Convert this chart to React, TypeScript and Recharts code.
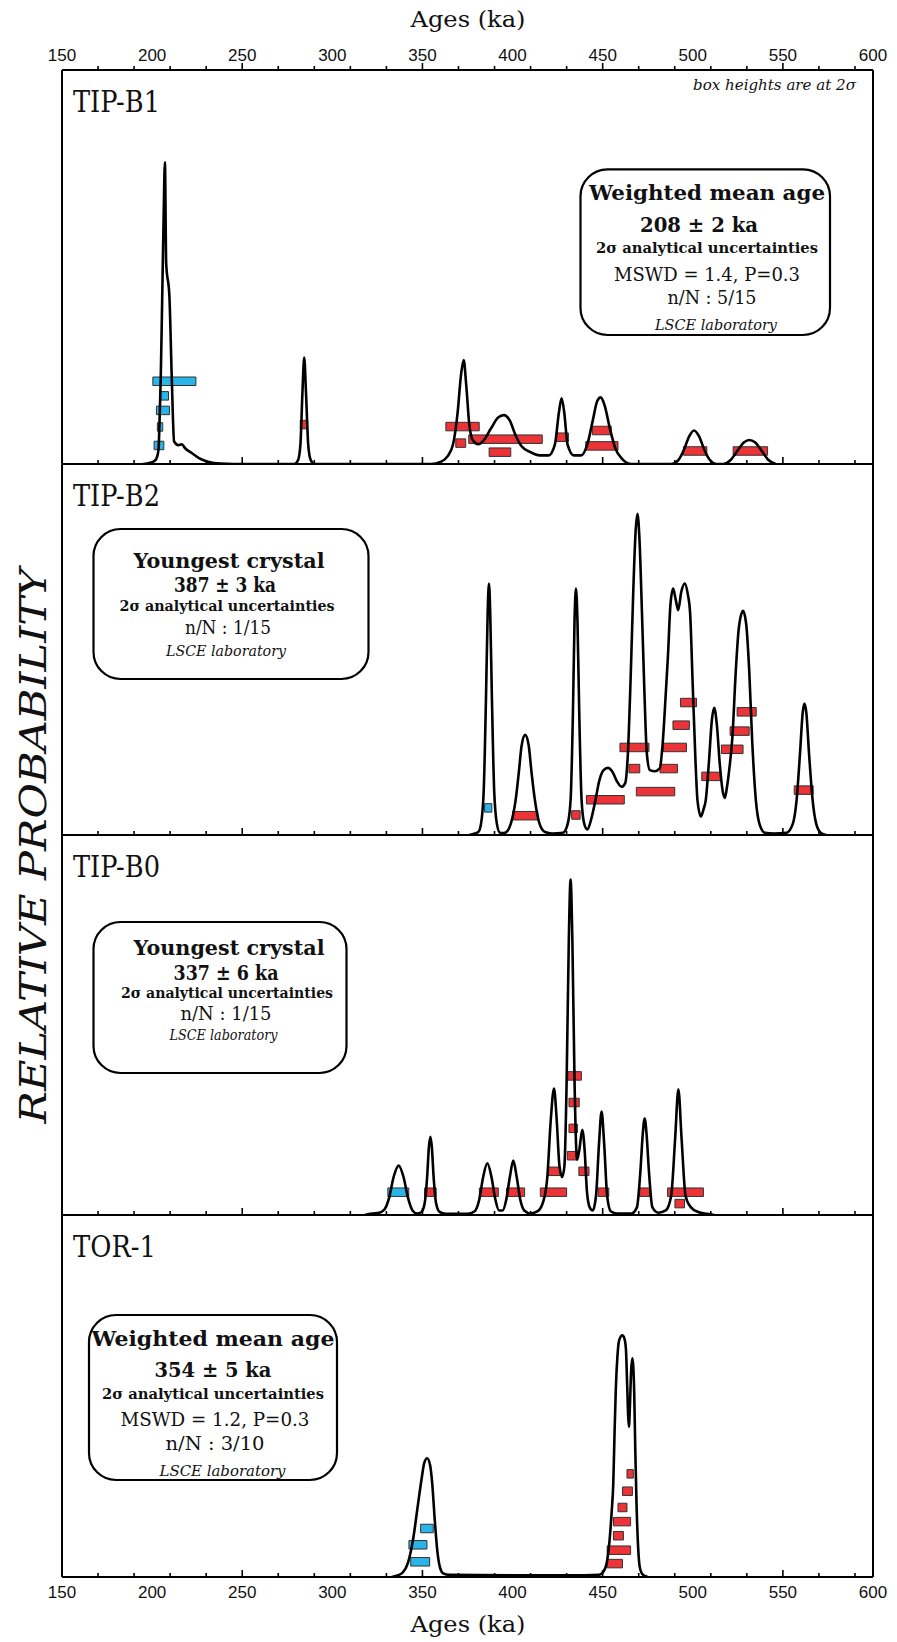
import React from "react";
import {
  ComposedChart,
  Line,
  XAxis,
  YAxis,
  ReferenceArea,
  ReferenceLine,
} from "recharts";

// axis (ka)
const AGE_LABELS = [150, 200, 250, 300, 350, 400, 450, 500, 550, 600];
const TICK_MARKS = [
  170, 190, 210, 230, 250, 270, 290, 310, 330, 350, 370, 390, 410, 430, 450,
  470, 490, 510, 530, 550, 570, 590,
];
const LONG_TICKS = [250, 350, 450, 550];
const ALL_TICKS = Array.from(new Set([...AGE_LABELS, ...TICK_MARKS])).sort(
  (a, b) => a - b
);

// probability density curves: [age ka, relative probability]
const B1_CURVE = [
  [195, 0], [199, 0.003], [201.5, 0.008], [203, 0.022], [203.6, 0.04], [204.2, 0.12],
  [204.8, 0.22], [205.6, 0.42], [206.4, 0.63], [207.1, 0.766], [207.8, 0.51],
  [209.6, 0.425], [210.9, 0.22], [212.2, 0.057], [214.6, 0.048], [216.5, 0.05],
  [218.3, 0.04], [222, 0.028], [226, 0.015], [231, 0.006], [238, 0.001], [245, 0],
  [279, 0], [281, 0.01], [282.3, 0.05], [283.4, 0.18], [284.4, 0.27], [285.4, 0.18],
  [286.6, 0.05], [288, 0.01], [290, 0],
  [355, 0], [360, 0.005], [364, 0.02], [367, 0.05], [369.5, 0.13], [371.5, 0.23],
  [372.9, 0.264], [374.3, 0.2], [376, 0.1], [378, 0.06], [381, 0.05], [384, 0.06],
  [388, 0.09], [392, 0.118], [395.2, 0.124], [398.5, 0.11], [401.5, 0.075],
  [405, 0.045], [410, 0.03], [415, 0.022], [420, 0.022], [423.5, 0.05],
  [425.7, 0.13], [427.2, 0.167], [428.7, 0.13], [430.5, 0.05], [434, 0.022],
  [438, 0.022], [441.5, 0.05], [444.5, 0.11], [447, 0.16], [448.9, 0.169],
  [451, 0.15], [454, 0.09], [457, 0.04], [461, 0.012], [466, 0],
  [488, 0], [492, 0.01], [495, 0.035], [498, 0.07], [500.7, 0.085], [503.5, 0.07],
  [506.5, 0.035], [509.5, 0.01], [513, 0],
  [517, 0], [521, 0.01], [525, 0.035], [528.5, 0.055], [531.3, 0.061],
  [534.5, 0.055], [538, 0.035], [542, 0.01], [546, 0],
];

const B2_CURVE = [
  [376, 0], [379, 0.004], [381, 0.008], [382.5, 0.03], [384, 0.12], [385.3, 0.38],
  [386.2, 0.6], [386.9, 0.678], [387.6, 0.6], [388.5, 0.38], [389.8, 0.12],
  [391.3, 0.03], [393, 0.006], [395, 0.005], [397, 0.01], [399, 0.03],
  [401.7, 0.094], [403.5, 0.17], [405, 0.24], [407, 0.27], [409, 0.24],
  [410.5, 0.17], [412.4, 0.094], [415, 0.03], [418, 0.008], [422, 0.004],
  [428, 0.006], [430.6, 0.03], [432.2, 0.094], [433.5, 0.33], [434.4, 0.58],
  [435.2, 0.664], [436, 0.58], [437, 0.33], [438.3, 0.094], [439.8, 0.03],
  [441.5, 0.015], [443.5, 0.04], [446, 0.094], [448, 0.144], [450.5, 0.175],
  [452.9, 0.181], [455.5, 0.17], [458, 0.144], [460.5, 0.13], [462.5, 0.14],
  [464, 0.22], [465.5, 0.42], [467, 0.66], [468.3, 0.82], [469.3, 0.866],
  [470.4, 0.8], [471.8, 0.6], [473.2, 0.38], [474.5, 0.22], [476.2, 0.175],
  [479, 0.172], [481.7, 0.18], [483.5, 0.26], [485, 0.38], [486.2, 0.48],
  [487.6, 0.62], [489.1, 0.664], [490.5, 0.635], [491.9, 0.606], [493.6, 0.655],
  [495.6, 0.678], [497.2, 0.65], [498.5, 0.6], [500, 0.4], [501.5, 0.2],
  [502.6, 0.094], [504.5, 0.05], [506, 0.07], [507.2, 0.094], [509, 0.2],
  [510.6, 0.31], [511.9, 0.343], [513.3, 0.3], [515, 0.19], [516.5, 0.121],
  [517.8, 0.1], [519, 0.13], [520.2, 0.175], [522, 0.265], [523.9, 0.445],
  [525.6, 0.56], [527.9, 0.604], [529.6, 0.57], [531.3, 0.445], [533, 0.25],
  [535, 0.094], [537, 0.03], [540, 0.006], [545, 0.004], [552, 0.006],
  [555.5, 0.03], [557.6, 0.094], [559.5, 0.22], [561, 0.33], [561.9, 0.354],
  [563, 0.33], [564.5, 0.22], [566.5, 0.094], [568.5, 0.03], [571, 0.006], [574, 0],
];

const B0_CURVE = [
  [318, 0], [322, 0.004], [326, 0.006], [329, 0.015], [331.5, 0.045], [334, 0.1],
  [336.8, 0.13], [339.5, 0.1], [342, 0.045], [344.5, 0.012], [347, 0.004],
  [349.5, 0.008], [351.2, 0.03], [352.6, 0.1], [353.6, 0.18], [354.4, 0.206],
  [355.2, 0.18], [356.2, 0.1], [357.6, 0.03], [359.5, 0.008], [363, 0.003],
  [375, 0.003], [379, 0.01], [381.5, 0.04], [383.7, 0.1], [386, 0.136],
  [388.3, 0.1], [390.5, 0.04], [392.5, 0.012], [394.5, 0.012], [396.5, 0.04],
  [398.5, 0.1], [400.4, 0.143], [402.3, 0.1], [404.3, 0.04], [406.5, 0.012],
  [410, 0.004], [414, 0.01], [417, 0.035], [419.3, 0.1], [421.2, 0.25],
  [423, 0.333], [424.5, 0.25], [426, 0.13], [427.5, 0.1], [428.8, 0.13],
  [430, 0.35], [431.2, 0.72], [432.2, 0.883], [433.2, 0.72], [434.4, 0.35],
  [435.8, 0.145], [437, 0.17], [438.7, 0.224], [440, 0.17], [441.3, 0.06],
  [442.8, 0.02], [444.5, 0.012], [446.3, 0.05], [448, 0.19], [449.4, 0.272],
  [450.8, 0.19], [452.5, 0.05], [454.5, 0.01], [458, 0.004], [466, 0.004],
  [469, 0.02], [471, 0.12], [472.2, 0.21], [473.3, 0.254], [474.4, 0.21],
  [475.6, 0.12], [477.6, 0.02], [481, 0.006], [485, 0.012], [488, 0.05],
  [490.2, 0.2], [492, 0.331], [493.8, 0.2], [496, 0.05], [499, 0.02],
  [503, 0.008], [508, 0.003], [512, 0],
];

const TOR_CURVE = [
  [333, 0], [336, 0.004], [339, 0.012], [342, 0.04], [345, 0.11], [347.5, 0.2],
  [349.5, 0.27], [351, 0.315], [352.6, 0.328], [354.2, 0.31], [355.4, 0.26],
  [356.8, 0.16], [358.3, 0.07], [359.8, 0.025], [361.5, 0.01], [365, 0.006],
  [400, 0.005], [440, 0.005], [448, 0.006], [450.5, 0.015], [452.3, 0.04],
  [453.8, 0.1], [455, 0.18], [455.9, 0.26], [456.6, 0.4], [457.3, 0.52],
  [458.2, 0.61], [459.2, 0.655], [460.9, 0.668], [462, 0.66], [462.9, 0.63],
  [463.6, 0.53], [464.2, 0.44], [464.6, 0.415], [465.1, 0.47], [465.8, 0.57],
  [466.5, 0.604], [467, 0.58], [467.5, 0.51], [468.1, 0.35], [468.8, 0.2],
  [469.6, 0.09], [470.5, 0.03], [472, 0.008], [475, 0],
];

// crystal ages: [age - 2s, age + 2s, stack level, 1 = used in the mean]
const B1_BOXES = [
  [200.4, 224.3, 0.21, 1], [204.1, 209.1, 0.173, 1], [202.4, 209.6, 0.136, 1],
  [202.9, 205.9, 0.094, 1], [201.1, 206.5, 0.047, 1],
  [282.2, 286.3, 0.1, 0], [363, 381.5, 0.095, 0], [368.5, 374, 0.053, 0],
  [375.7, 416.5, 0.063, 0], [387, 399, 0.03, 0], [424.3, 431, 0.068, 0],
  [444.3, 454.8, 0.085, 0], [440.6, 458.5, 0.046, 0], [494.8, 507.8, 0.033, 0],
  [522.4, 541.5, 0.033, 0],
];

const B2_BOXES = [
  [384.5, 388.5, 0.073, 1],
  [400, 414, 0.052, 0], [432.8, 437.5, 0.054, 0], [441, 462, 0.095, 0],
  [459.6, 475.7, 0.236, 0], [464.6, 470.6, 0.179, 0], [468.7, 490, 0.117, 0],
  [483.7, 496.5, 0.236, 0], [481.8, 491.5, 0.179, 0], [489, 498.1, 0.296, 0],
  [493.2, 502.1, 0.357, 0], [505, 515.7, 0.158, 0], [515.9, 527.9, 0.231, 0],
  [520.7, 531.3, 0.28, 0], [524.6, 535.2, 0.332, 0], [556.3, 566.8, 0.121, 0],
];

const B0_BOXES = [
  [330.8, 342.4, 0.06, 1],
  [351.2, 357.6, 0.06, 0], [381.6, 392.1, 0.06, 0], [396.7, 406.7, 0.06, 0],
  [415.4, 430, 0.06, 0], [419.5, 426.5, 0.115, 0], [430.7, 438.2, 0.366, 0],
  [431.3, 437, 0.296, 0], [431.3, 436, 0.228, 0], [430.4, 435.4, 0.156, 0],
  [436.8, 442.4, 0.115, 0], [447.5, 453.4, 0.06, 0], [470.5, 476, 0.06, 0],
  [486, 505.9, 0.06, 0], [490.1, 495.4, 0.03, 0],
];

const TOR_BOXES = [
  [349, 356, 0.134, 1], [342.5, 352.5, 0.089, 1], [343.5, 354, 0.042, 1],
  [463.5, 467, 0.285, 0], [461, 466.5, 0.237, 0], [458.5, 463.5, 0.192, 0],
  [456, 465.5, 0.153, 0], [456, 461.5, 0.114, 0], [452.5, 465.5, 0.074, 0],
  [452.5, 461, 0.037, 0],
];

const W = 897;
const H = 1642;
const RED = "#ec3338";
const BLUE = "#29b5e8";
const SERIF = "'DejaVu Serif', 'Liberation Serif', serif";
const SANS = "'Liberation Sans', Arial, sans-serif";
const BOX_PX = 8.5;

const PANELS = [
  { curve: B1_CURVE, boxes: B1_BOXES, top: 70, bottom: 464 },
  { curve: B2_CURVE, boxes: B2_BOXES, top: 464, bottom: 835 },
  { curve: B0_CURVE, boxes: B0_BOXES, top: 835, bottom: 1215 },
  { curve: TOR_CURVE, boxes: TOR_BOXES, top: 1215, bottom: 1577 },
];

const renderTick = (withLabels: boolean, side: "top" | "bottom") => (props: any) => {
  const { x, y, payload } = props;
  const v = payload.value;
  const len = LONG_TICKS.includes(v) ? 7 : 4;
  return (
    <g>
      {TICK_MARKS.includes(v) && (
        <line x1={x} x2={x} y1={y} y2={y - len} stroke="#000" strokeWidth={1.6} />
      )}
      {withLabels && AGE_LABELS.includes(v) && (
        <text
          x={x}
          y={side === "top" ? y - 9 : y + 21}
          textAnchor="middle"
          fontFamily={SANS}
          fontSize={17}
          fill="#111"
        >
          {v}
        </text>
      )}
    </g>
  );
};

function Panel({ curve, boxes, top, bottom, first, last }: any) {
  const chartTop = first ? 0 : top;
  const bottomAxisH = last ? H - bottom : 2;
  const chartH = bottom - chartTop + bottomAxisH;
  const half = BOX_PX / 2 / (bottom - top);
  const data = curve.map(([age, p]: number[]) => ({ age, p }));
  const axisLine = { stroke: "#000", strokeWidth: 2 };
  return (
    <div style={{ position: "absolute", left: 0, top: chartTop }}>
      <ComposedChart
        width={W}
        height={chartH}
        data={data}
        margin={{ top: 0, right: 24, bottom: 0, left: 62 }}
      >
        {first && (
          <XAxis
            xAxisId="t"
            orientation="top"
            type="number"
            dataKey="age"
            domain={[150, 600]}
            allowDataOverflow
            ticks={ALL_TICKS}
            interval={0}
            height={top}
            tickSize={0}
            tickMargin={0}
            tickLine={false}
            axisLine={axisLine}
            tick={renderTick(true, "top")}
          />
        )}
        <XAxis
          xAxisId="b"
          orientation="bottom"
          type="number"
          dataKey="age"
          domain={[150, 600]}
          allowDataOverflow
          ticks={ALL_TICKS}
          interval={0}
          height={bottomAxisH}
          tickSize={0}
          tickMargin={0}
          tickLine={false}
          axisLine={axisLine}
          tick={renderTick(!!last, "bottom")}
        />
        <YAxis yAxisId="p" hide type="number" domain={[0, 1]} allowDataOverflow />
        <ReferenceLine xAxisId="b" yAxisId="p" x={150} stroke="#000" strokeWidth={2} />
        <ReferenceLine xAxisId="b" yAxisId="p" x={600} stroke="#000" strokeWidth={2} />
        <Line
          xAxisId="b"
          yAxisId="p"
          dataKey="p"
          type="monotone"
          stroke="#000"
          strokeWidth={2.6}
          dot={false}
          isAnimationActive={false}
        />
        {boxes.map(([lo, hi, lvl, used]: number[], i: number) => (
          <ReferenceArea
            key={i}
            xAxisId="b"
            yAxisId="p"
            x1={lo}
            x2={hi}
            y1={lvl - half}
            y2={lvl + half}
            fill={used ? BLUE : RED}
            fillOpacity={1}
            stroke="#333"
            strokeWidth={1}
          />
        ))}
      </ComposedChart>
    </div>
  );
}

function Txt({ x, y, size, len, bold, italic, anchor = "middle", children }: any) {
  return (
    <text
      x={x}
      y={y}
      fontFamily={SERIF}
      fontSize={size}
      fontWeight={bold ? 700 : 400}
      fontStyle={italic ? "italic" : "normal"}
      textAnchor={anchor}
      textLength={len}
      lengthAdjust="spacingAndGlyphs"
      fill="#111"
    >
      {children}
    </text>
  );
}

export default function App() {
  return (
    <div style={{ position: "absolute", left: 0, top: 0, width: W, height: H, background: "#fff" }}>
      {PANELS.map((p, i) => (
        <Panel key={i} {...p} first={i === 0} last={i === PANELS.length - 1} />
      ))}
      <svg
        width={W}
        height={H}
        style={{ position: "absolute", left: 0, top: 0, pointerEvents: "none" }}
      >
        <Txt x={468} y={27} size={23} len={115}>Ages (ka)</Txt>
        <Txt x={468} y={1632} size={23} len={115}>Ages (ka)</Txt>
        <g transform="translate(46 846) rotate(-90)">
          <Txt x={0} y={0} size={37} len={555} italic>RELATIVE PROBABILITY</Txt>
        </g>

        <Txt x={73} y={112} size={30} len={87} anchor="start">TIP-B1</Txt>
        <Txt x={73} y={506} size={30} len={87} anchor="start">TIP-B2</Txt>
        <Txt x={73} y={877} size={30} len={87} anchor="start">TIP-B0</Txt>
        <Txt x={73} y={1257} size={30} len={83} anchor="start">TOR-1</Txt>
        <Txt x={856} y={90} size={14} len={163} italic anchor="end">box heights are at 2σ</Txt>

        <rect x={580.5} y={169.3} width={249.5} height={165.7} rx={27} fill="#fff" stroke="#000" strokeWidth={2.2} />
        <Txt x={707} y={200} size={21} len={236} bold>Weighted mean age</Txt>
        <Txt x={699} y={231.7} size={20} len={118} bold>208 ± 2 ka</Txt>
        <Txt x={707} y={253} size={14.5} len={222} bold>2σ analytical uncertainties</Txt>
        <Txt x={707} y={280.7} size={18} len={186}>MSWD = 1.4, P=0.3</Txt>
        <Txt x={712} y={304} size={18} len={89}>n/N : 5/15</Txt>
        <Txt x={716} y={330} size={14} len={122} italic>LSCE laboratory</Txt>

        <rect x={93.5} y={529} width={275} height={150} rx={27} fill="#fff" stroke="#000" strokeWidth={2.2} />
        <Txt x={229} y={568} size={21} len={191} bold>Youngest crystal</Txt>
        <Txt x={225} y={592} size={20} len={102} bold>387 ± 3 ka</Txt>
        <Txt x={227} y={611} size={14} len={215} bold>2σ analytical uncertainties</Txt>
        <Txt x={228} y={634} size={18} len={86}>n/N : 1/15</Txt>
        <Txt x={226} y={656} size={14} len={120} italic>LSCE laboratory</Txt>

        <rect x={93.5} y={922} width={253} height={151} rx={27} fill="#fff" stroke="#000" strokeWidth={2.2} />
        <Txt x={229} y={955} size={21} len={191} bold>Youngest crystal</Txt>
        <Txt x={226} y={980} size={20} len={105} bold>337 ± 6 ka</Txt>
        <Txt x={227} y={998} size={14} len={212} bold>2σ analytical uncertainties</Txt>
        <Txt x={226} y={1020} size={18} len={91}>n/N : 1/15</Txt>
        <Txt x={223.5} y={1040} size={14} len={108} italic>LSCE laboratory</Txt>

        <rect x={89} y={1315} width={248} height={165} rx={27} fill="#fff" stroke="#000" strokeWidth={2.2} />
        <Txt x={213} y={1345.7} size={21} len={243} bold>Weighted mean age</Txt>
        <Txt x={213} y={1377.4} size={20} len={117} bold>354 ± 5 ka</Txt>
        <Txt x={213} y={1398.7} size={14.5} len={222} bold>2σ analytical uncertainties</Txt>
        <Txt x={215} y={1426.4} size={18} len={189}>MSWD = 1.2, P=0.3</Txt>
        <Txt x={215} y={1449.7} size={18} len={99}>n/N : 3/10</Txt>
        <Txt x={222.5} y={1475.7} size={14} len={126} italic>LSCE laboratory</Txt>
      </svg>
    </div>
  );
}
